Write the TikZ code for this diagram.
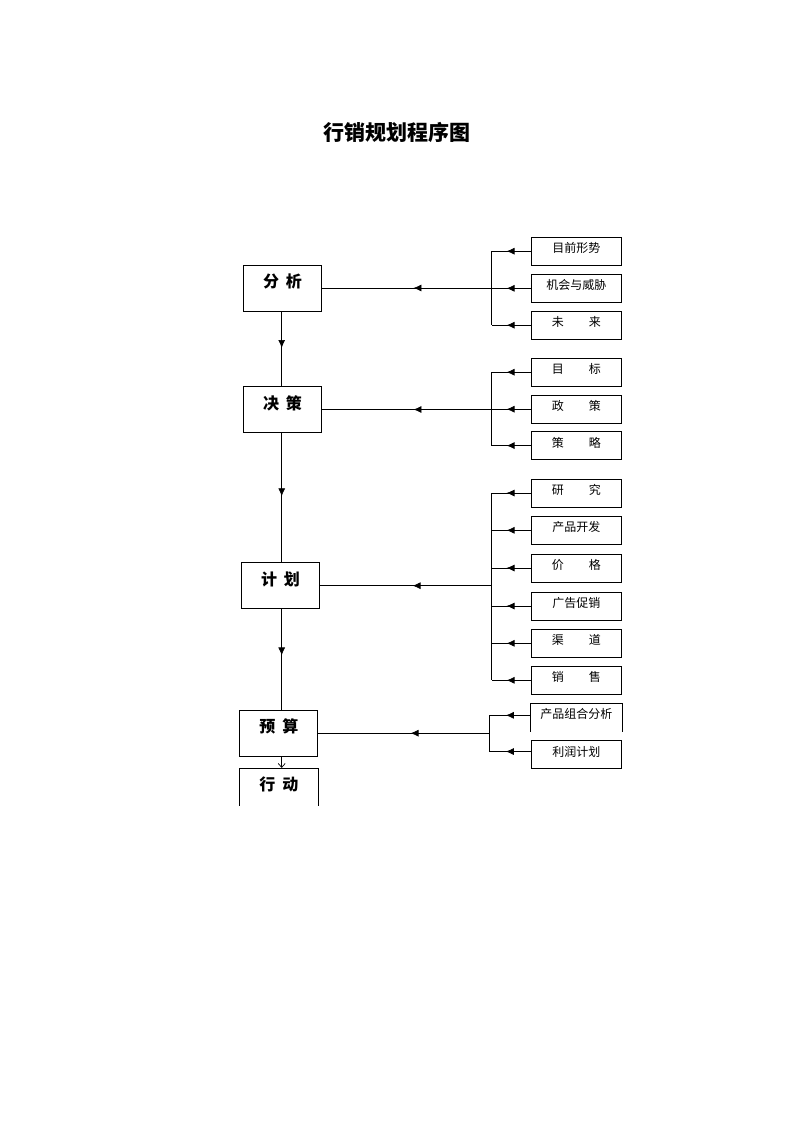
\documentclass[tikz,border=0pt]{standalone}
\usepackage{fontspec}
\newfontfamily\cjk{Noto Sans CJK SC}
\usetikzlibrary{arrows.meta,decorations.markings}

\tikzset{
  stage/.style={draw, minimum width=78pt, minimum height=46pt, inner sep=0pt,
    text height=13pt, text depth=14pt, font={\cjk\bfseries\fontsize{16}{16}\selectfont}},
  item/.style={draw, minimum width=90.7pt, minimum height=28pt, inner sep=0pt,
    text height=9pt, text depth=6pt, font={\cjk\fontsize{12}{12}\selectfont}},
  midarrow/.style={postaction={decorate}, decoration={markings,
    mark=at position #1 with {\arrow{Latex[length=8pt,width=7pt]}}}}
}

\begin{document}
\begin{tikzpicture}[x=1pt, y=-1pt, line width=0.7pt]
    \useasboundingbox (0,0) rectangle (793,1122);

    % Title
    \node[font={\cjk\bfseries\fontsize{21}{21}\selectfont}] (title) at (397,132.5) {行销规划程序图};

    % Stages
    \node[stage] (fenxi) at (282.5,288) {分\hspace{7pt}析};
    \node[stage] (juece) at (282.5,409.5) {决\hspace{7pt}策};
    \node[stage] (jihua) at (280.5,585.7) {计\hspace{7pt}划};
    \node[stage] (yusuan) at (278.8,733.2) {预\hspace{7pt}算};
    \node[stage, draw=none] (xingdong) at (278.8,791.3) {行\hspace{7pt}动};

    % Items
    \node[item] (muqian) at (576.3,251.2) {目前形势};
    \node[item] (jihui) at (576.3,288.3) {机会与威胁};
    \node[item] (weilai) at (576.3,325.2) {未\hspace{25pt}来};

    \node[item] (mubiao) at (576.3,372.2) {目\hspace{25pt}标};
    \node[item] (zhengce) at (576.3,409.2) {政\hspace{25pt}策};
    \node[item] (celue) at (576.3,445.6) {策\hspace{25pt}略};

    \node[item] (yanjiu) at (576.3,493) {研\hspace{25pt}究};
    \node[item] (kaifa) at (576.3,530.3) {产品开发};
    \node[item] (jiage) at (576.3,568) {价\hspace{25pt}格};
    \node[item] (cuxiao) at (576.3,606) {广告促销};
    \node[item] (qudao) at (576.3,643.3) {渠\hspace{25pt}道};
    \node[item] (xiaoshou) at (576.3,680.3) {销\hspace{25pt}售};

    \node[item, draw=none] (zuhe) at (576.3,717.3) {产品组合分析};
    \node[item] (lirun) at (576.3,754.5) {利润计划};

    % Open boxes
    \draw (zuhe.south west) -- (zuhe.north west) -- (zuhe.north east) -- (zuhe.south east);
    \draw ([yshift=9pt]xingdong.south west) -- (xingdong.north west) -- (xingdong.north east) -- ([yshift=9pt]xingdong.south east);

    % Brackets
    \coordinate (trunk) at (281.7,0);
    \coordinate (b1) at (491.5,0);
    \coordinate (b4) at (489.3,0);

    % Main flow
    \draw[midarrow=0.49] (fenxi.south -| trunk) -- (juece.north -| trunk);
    \draw[midarrow=0.49] (juece.south -| trunk) -- (jihua.north -| trunk);
    \draw[midarrow=0.46] (jihua.south -| trunk) -- (yusuan.north -| trunk);
    \draw[-{Straight Barb[length=4pt,width=7pt]}] (yusuan.south -| trunk) -- (xingdong.north -| trunk);

    % Group 1
    \draw[midarrow=0.615] (muqian.west) -- (muqian.west -| b1);
    \draw[midarrow=0.615] (jihui.west) -- (jihui.west -| b1);
    \draw[midarrow=0.615] (weilai.west) -- (weilai.west -| b1);
    \draw (muqian.west -| b1) -- (weilai.west -| b1);
    \draw[midarrow=0.46] (fenxi.east -| b1) -- (fenxi.east);

    % Group 2
    \draw[midarrow=0.615] (mubiao.west) -- (mubiao.west -| b1);
    \draw[midarrow=0.615] (zhengce.west) -- (zhengce.west -| b1);
    \draw[midarrow=0.615] (celue.west) -- (celue.west -| b1);
    \draw (mubiao.west -| b1) -- (celue.west -| b1);
    \draw[midarrow=0.46] (juece.east -| b1) -- (juece.east);

    % Group 3
    \draw[midarrow=0.615] (yanjiu.west) -- (yanjiu.west -| b1);
    \draw[midarrow=0.615] (kaifa.west) -- (kaifa.west -| b1);
    \draw[midarrow=0.615] (jiage.west) -- (jiage.west -| b1);
    \draw[midarrow=0.615] (cuxiao.west) -- (cuxiao.west -| b1);
    \draw[midarrow=0.615] (qudao.west) -- (qudao.west -| b1);
    \draw[midarrow=0.615] (xiaoshou.west) -- (xiaoshou.west -| b1);
    \draw (yanjiu.west -| b1) -- (xiaoshou.west -| b1);
    \draw[midarrow=0.46] (jihua.east -| b1) -- (jihua.east);

    % Group 4
    \draw[midarrow=0.6] ([yshift=2pt]zuhe.west) -- ([yshift=2pt]zuhe.west -| b4);
    \draw[midarrow=0.6] ([yshift=3pt]lirun.west) -- ([yshift=3pt]lirun.west -| b4);
    \draw ([yshift=2pt]zuhe.west -| b4) -- ([yshift=3pt]lirun.west -| b4);
    \draw[midarrow=0.46] (yusuan.east -| b4) -- (yusuan.east);

\end{tikzpicture}
\end{document}
